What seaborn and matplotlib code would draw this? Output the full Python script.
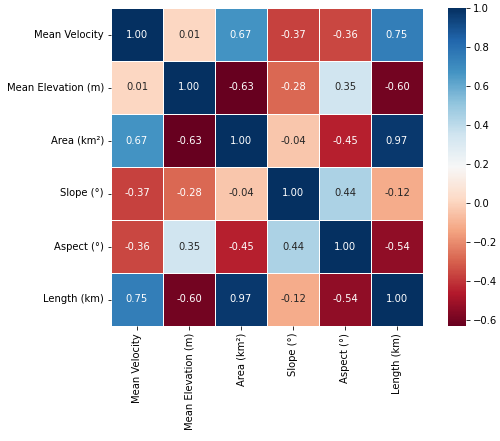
import numpy as np
import pandas as pd
import matplotlib
matplotlib.use("Agg")
import matplotlib.pyplot as plt
import seaborn as sns

labels = ["Mean Velocity", "Mean Elevation (m)", "Area (km²)", "Slope (°)", "Aspect (°)", "Length (km)"]

mean_velocity = [1.00, 0.01, 0.67, -0.37, -0.36, 0.75]
mean_elevation = [0.01, 1.00, -0.63, -0.28, 0.35, -0.60]
area = [0.67, -0.63, 1.00, -0.04, -0.45, 0.97]
slope = [-0.37, -0.28, -0.04, 1.00, 0.44, -0.12]
aspect = [-0.36, 0.35, -0.45, 0.44, 1.00, -0.54]
length = [0.75, -0.60, 0.97, -0.12, -0.54, 1.00]

corr = pd.DataFrame(
    [mean_velocity, mean_elevation, area, slope, aspect, length],
    index=labels, columns=labels,
)

W, H = 500, 441
fig = plt.figure(figsize=(W / 72, H / 72), dpi=72)
ax = fig.add_axes([111 / W, 1 - 326 / H, 312 / W, 318 / H])
cax = fig.add_axes([448 / W, 1 - 326 / H, 18 / W, 318 / H])

sns.heatmap(corr, annot=True, fmt=".2f", cmap="RdBu", ax=ax, cbar_ax=cax,
            linewidths=0.5, linecolor="white")
plt.savefig("out.png", dpi=72)
